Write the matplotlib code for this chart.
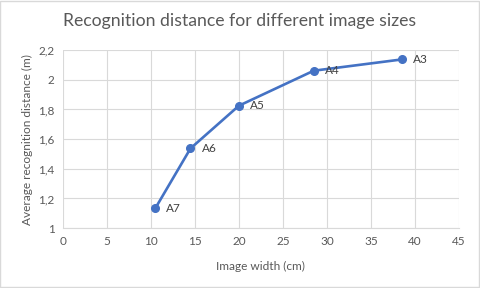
import matplotlib
matplotlib.use('Agg')
import matplotlib.pyplot as plt
from matplotlib.ticker import FuncFormatter, MultipleLocator

WIDTH_CM = [10.5, 14.5, 20.0, 28.5, 38.5]
DISTANCE_M = [1.133, 1.537, 1.825, 2.061, 2.137]
SIZES = ['A7', 'A6', 'A5', 'A4', 'A3']

BLUE = '#4472C4'
GREY = '#595959'
GRID = '#D9D9D9'

plt.rcParams['font.family'] = ['Lato', 'DejaVu Sans']

fig = plt.figure(figsize=(4.8, 2.88), dpi=100)
ax = fig.add_axes([0.131, 0.208, 0.825, 0.618])

ax.plot(WIDTH_CM, DISTANCE_M, color=BLUE, lw=1.9, marker='o', ms=5.5, zorder=3)
for x, y, s in zip(WIDTH_CM, DISTANCE_M, SIZES):
    ax.annotate(s, (x, y), xytext=(8, 0), textcoords='offset points',
                va='center', ha='left', fontsize=8.5, color='#404040')

ax.set_xlim(0, 45)
ax.set_ylim(1, 2.2)
ax.xaxis.set_major_locator(MultipleLocator(5))
ax.yaxis.set_major_locator(MultipleLocator(0.2))
ax.yaxis.set_major_formatter(FuncFormatter(lambda v, p: f'{v:.1f}'.rstrip('0').rstrip('.').replace('.', ',')))

ax.grid(True, color=GRID, lw=0.8)
ax.set_axisbelow(True)
for side in ['top', 'right', 'left']:
    ax.spines[side].set_visible(False)
ax.spines['bottom'].set_color(GRID)
ax.tick_params(length=0, labelsize=8.5, colors=GREY, pad=6)

ax.set_xlabel('Image width (cm)', fontsize=8.6, color=GREY, labelpad=10)
ax.set_ylabel('Average recognition distance (m)', fontsize=8.6, color=GREY, labelpad=4)
fig.suptitle('Recognition distance for different image sizes', y=0.955,
             fontsize=12.7, color=GREY)

fig.patches.append(plt.Rectangle((0.001, 0.002), 0.997, 0.995, transform=fig.transFigure,
                                 fill=False, edgecolor=GRID, lw=1))

fig.savefig('out.png', dpi=100)
